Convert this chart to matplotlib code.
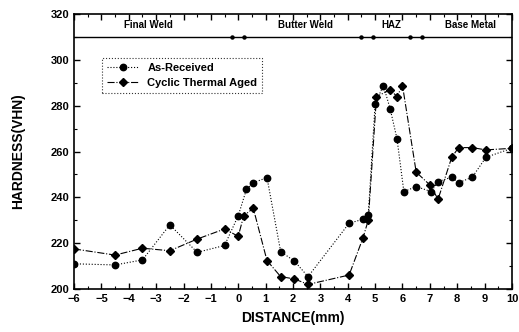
import matplotlib
matplotlib.use("Agg")
import matplotlib.pyplot as plt
from matplotlib.ticker import MultipleLocator

plt.rcParams["font.family"] = ["Liberation Sans", "DejaVu Sans"]

# hardness profile
as_received_x = [-6, -4.5, -3.5, -2.5, -1.5, -0.5, 0, 0.3, 0.55, 1.05, 1.55, 2.05, 2.55,
                 4.05, 4.55, 4.75, 5.0, 5.3, 5.55, 5.8, 6.05, 6.5, 7.05, 7.3, 7.8, 8.05,
                 8.55, 9.05, 10]
as_received_y = [211, 210.5, 212.7, 228, 216, 219, 232, 243.5, 246.4, 248.6, 216.3, 212.2,
                 205.4, 228.7, 230.4, 232.3, 280.7, 288.8, 278.6, 265.5, 242.5, 244.7,
                 242.5, 246.9, 248.8, 246.4, 248.8, 257.5, 261.4]

aged_x = [-6, -4.5, -3.5, -2.5, -1.5, -0.5, 0, 0.2, 0.55, 1.05, 1.55, 2.05, 2.55, 4.05,
          4.55, 4.75, 5.05, 5.55, 5.8, 6.0, 6.5, 7.0, 7.3, 7.8, 8.05, 8.55, 9.05, 10]
aged_y = [217.5, 214.8, 217.8, 216.7, 221.8, 226.2, 223, 232, 235.2, 212.4, 205.4, 204.4,
          202, 206.1, 222.1, 230, 284, 286.9, 284, 288.8, 251, 245.4, 239.2, 257.5,
          261.7, 261.7, 260.7, 261.4]

zones = ["Final Weld", "Butter Weld", "HAZ", "Base Metal"]
zone_x = [-3.3, 2.45, 5.6, 8.5]
zone_edges = [0, 4.7, 6.5]

fig = plt.figure(figsize=(5.19, 3.32), dpi=100)
ax = fig.add_axes([0.1426, 0.1295, 0.8439, 0.8283])

ax.plot(as_received_x, as_received_y, color="black", linestyle=":", linewidth=0.8,
        marker="o", markersize=4.6, label="As-Received")
ax.plot(aged_x, aged_y, color="black", linestyle="-.", linewidth=0.8,
        marker="D", markersize=4.2, label="Cyclic Thermal Aged")

# zone band at the top
ax.axhline(310, color="black", linewidth=1.0)
for edge in zone_edges:
    ax.plot([edge - 0.22, edge + 0.22], [310, 310], color="black", linestyle="none",
            marker="o", markersize=2.2)
for name, zx in zip(zones, zone_x):
    ax.text(zx, 315, name, ha="center", va="center", fontsize=7, fontweight="bold")

ax.set_xlim(-6, 10)
ax.set_ylim(200, 320)
ax.xaxis.set_major_locator(MultipleLocator(1))
ax.xaxis.set_minor_locator(MultipleLocator(0.5))
ax.yaxis.set_major_locator(MultipleLocator(20))
ax.yaxis.set_minor_locator(MultipleLocator(10))
ax.tick_params(which="both", direction="in", top=True, right=True, labelsize=8)
ax.tick_params(which="major", length=4, width=1)
ax.tick_params(which="minor", length=2, width=0.8)
for lbl in ax.get_xticklabels() + ax.get_yticklabels():
    lbl.set_fontweight("bold")
for sp in ax.spines.values():
    sp.set_linewidth(1.2)

ax.set_xlabel("DISTANCE(mm)", fontsize=10, fontweight="bold", labelpad=5)
ax.set_ylabel("HARDNESS(VHN)", fontsize=10, fontweight="bold", labelpad=18)

leg = ax.legend(loc="upper left", bbox_to_anchor=(0.052, 0.86), fontsize=8,
                frameon=True, fancybox=False, edgecolor="black", handlelength=2.8,
                borderpad=0.45, labelspacing=0.4)
leg.get_frame().set_linestyle(":")
leg.get_frame().set_linewidth(0.8)
for t in leg.get_texts():
    t.set_fontweight("bold")

fig.savefig("out.png", dpi=100)
